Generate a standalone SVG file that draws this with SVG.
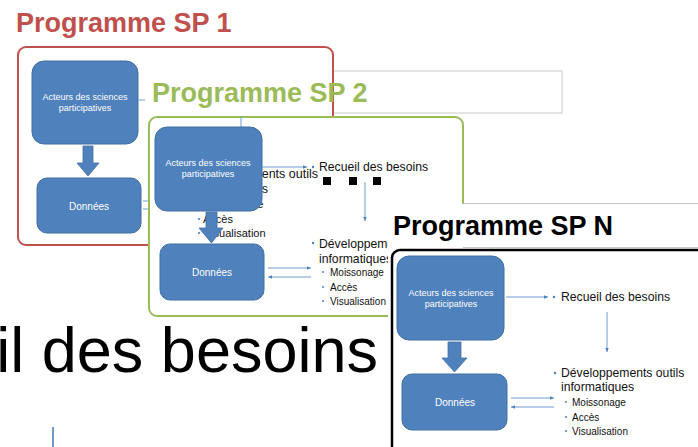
<svg xmlns="http://www.w3.org/2000/svg" width="698" height="447" viewBox="0 0 698 447">
  <defs>
    <marker id="tip" viewBox="0 0 6 6" refX="5" refY="3" markerWidth="5" markerHeight="5" orient="auto">
      <path d="M0,0.8 L5,3 L0,5.2 Z" fill="#4f81bd"/>
    </marker>
  </defs>
  <style>
    text { font-family: "Liberation Sans", Arial, sans-serif; }
    .title { font-size: 27px; font-weight: bold; }
    .box { fill: #4f81bd; stroke: #416fa5; stroke-width: 1; }
    .boxtxt { fill: #ffffff; font-size: 9px; text-anchor: middle; }
    .boxtxt2 { fill: #ffffff; font-size: 10px; text-anchor: middle; }
    .down { fill: #4f81bd; stroke: #416fa5; stroke-width: 0.8; }
    .conn { stroke: #6f9bd1; stroke-width: 1; fill: none; }
    .dot { fill: #4f81bd; }
    .main { font-size: 12.2px; fill: #111; }
    .sub { font-size: 10px; fill: #111; }
    .frag-main { font-size: 12.5px; fill: #111; }
    .frag-sub { font-size: 11px; fill: #111; }
    .sq { fill: #000; }
    .frame { fill: #ffffff; stroke: #c8c8c8; stroke-width: 1; }
  </style>

  <rect width="698" height="447" fill="#ffffff"/>

  <!-- backdrop slide: large heading and a stray connector -->
  <g id="backdrop">
    <text x="378" y="372" font-size="63" fill="#000" text-anchor="end">il des besoins</text>
    <line x1="53" y1="427" x2="53" y2="447" stroke="#4f81bd" stroke-width="1.6"/>
  </g>

  <!-- Programme SP 1 -->
  <g id="sp1">
    <text class="title" x="16" y="32" fill="#c0504d">Programme SP 1</text>
    <rect x="18" y="47" width="315" height="198" rx="8" fill="#ffffff" stroke="#c0504d" stroke-width="2"/>
  </g>
  <g id="sp1-acteurs">
    <rect class="box" x="32" y="61" width="106" height="83" rx="12"/>
    <text class="boxtxt" x="85" y="100">Acteurs des sciences</text>
    <text class="boxtxt" x="85" y="111">participatives</text>
  </g>
  <g id="sp1-donnees">
    <rect class="box" x="37" y="178" width="104" height="55" rx="10"/>
    <text class="boxtxt2" x="89" y="210">Données</text>
  </g>
  <g id="sp1-connectors">
    <path class="down" d="M83,146 H93 V163 H99 L88,176 L77,163 H83 Z"/>
    <line class="conn" x1="139" y1="100" x2="145" y2="100"/>
    <line class="conn" x1="143" y1="201" x2="156" y2="201"/>
    <line class="conn" x1="143" y1="209" x2="156" y2="209"/>
  </g>

  <!-- Programme SP 2 -->
  <g id="sp2">
    <rect class="frame" x="333" y="71" width="229" height="42"/>
    <line x1="333" y1="60" x2="333" y2="116" stroke="#c0504d" stroke-width="2"/>
    <text class="title" x="152" y="102" fill="#9bbb59">Programme SP 2</text>
    <rect x="149" y="117" width="314" height="199" rx="8" fill="#ffffff" stroke="#9bbb59" stroke-width="2"/>
  </g>

  <!-- SP 1 list showing through the SP 2 frame -->
  <g id="sp1-list">
    <text class="frag-main" x="318" y="178" text-anchor="end">Développements outils</text>
    <text class="frag-main" x="268" y="193" text-anchor="end">informatiques</text>
    <circle class="dot" cx="199" cy="205" r="1.1"/>
    <text class="frag-sub" x="204" y="208">Moissonage</text>
    <circle class="dot" cx="199" cy="219" r="1.1"/>
    <text class="frag-sub" x="203" y="223">Accès</text>
    <circle class="dot" cx="199" cy="233" r="1.1"/>
    <text class="frag-sub" x="204" y="237">Visualisation</text>
    <line class="conn" x1="241" y1="117" x2="241" y2="128"/>
    <rect class="sq" x="323" y="177" width="8" height="8"/>
    <rect class="sq" x="349" y="177" width="8" height="8"/>
    <rect class="sq" x="373" y="177" width="8" height="8"/>
  </g>

  <g id="sp2-acteurs">
    <rect class="box" x="155" y="127" width="107" height="84" rx="12"/>
    <text class="boxtxt" x="208" y="166">Acteurs des sciences</text>
    <text class="boxtxt" x="208" y="177">participatives</text>
  </g>
  <g id="sp2-donnees">
    <rect class="box" x="160" y="244" width="104" height="56" rx="10"/>
    <text class="boxtxt2" x="212" y="276">Données</text>
  </g>
  <g id="sp2-besoins">
    <circle class="dot" cx="313" cy="167" r="1.2"/>
    <text class="main" x="319" y="171">Recueil des besoins</text>
  </g>
  <g id="sp2-outils">
    <circle class="dot" cx="313" cy="243" r="1.2"/>
    <text class="main" x="319" y="248">Développements outils</text>
    <text class="main" x="319" y="263">informatiques</text>
    <circle class="dot" cx="323" cy="272" r="1"/>
    <text class="sub" x="330" y="276">Moissonage</text>
    <circle class="dot" cx="323" cy="287" r="1"/>
    <text class="sub" x="330" y="291">Accès</text>
    <circle class="dot" cx="323" cy="301" r="1"/>
    <text class="sub" x="330" y="305">Visualisation</text>
  </g>
  <g id="sp2-connectors">
    <path class="down" d="M206,212 H217 V228 H223 L211.5,243 L199,228 H206 Z"/>
    <line class="conn" x1="262" y1="167" x2="307" y2="167" marker-end="url(#tip)"/>
    <line class="conn" x1="365" y1="182" x2="365" y2="221" marker-end="url(#tip)"/>
    <line class="conn" x1="268" y1="268" x2="311" y2="268" marker-end="url(#tip)"/>
    <line class="conn" x1="311" y1="277" x2="268" y2="277" marker-end="url(#tip)"/>
  </g>

  <!-- Programme SP N -->
  <g id="spn">
    <rect x="388" y="204" width="320" height="250" fill="#ffffff"/>
    <line x1="463" y1="203.5" x2="698" y2="203.5" stroke="#c8c8c8" stroke-width="1"/>
    <line x1="463" y1="247.5" x2="698" y2="247.5" stroke="#c8c8c8" stroke-width="1"/>
    <text class="title" x="393" y="235" fill="#000">Programme SP N</text>
    <rect x="392" y="250" width="330" height="220" rx="8" fill="#ffffff" stroke="#000" stroke-width="2.5"/>
  </g>
  <g id="spn-acteurs">
    <rect class="box" x="397" y="256" width="107" height="84" rx="12"/>
    <text class="boxtxt" x="451" y="296">Acteurs des sciences</text>
    <text class="boxtxt" x="451" y="307">participatives</text>
  </g>
  <g id="spn-donnees">
    <rect class="box" x="402" y="374" width="105" height="56" rx="10"/>
    <text class="boxtxt2" x="455" y="406">Données</text>
  </g>
  <g id="spn-besoins">
    <circle class="dot" cx="554" cy="297" r="1.2"/>
    <text class="main" x="561" y="301">Recueil des besoins</text>
  </g>
  <g id="spn-outils">
    <circle class="dot" cx="555" cy="373" r="1.2"/>
    <text class="main" x="561" y="377">Développements outils</text>
    <text class="main" x="561" y="391">informatiques</text>
    <circle class="dot" cx="566" cy="402" r="1"/>
    <text class="sub" x="572" y="406">Moissonage</text>
    <circle class="dot" cx="566" cy="417" r="1"/>
    <text class="sub" x="572" y="421">Accès</text>
    <circle class="dot" cx="566" cy="431" r="1"/>
    <text class="sub" x="572" y="435">Visualisation</text>
  </g>
  <g id="spn-connectors">
    <path class="down" d="M448,342 H461 V358 H467 L454.5,372 L442,358 H448 Z"/>
    <line class="conn" x1="506" y1="297" x2="548" y2="297" marker-end="url(#tip)"/>
    <line class="conn" x1="607" y1="312" x2="607" y2="352" marker-end="url(#tip)"/>
    <line class="conn" x1="511" y1="398" x2="554" y2="398" marker-end="url(#tip)"/>
    <line class="conn" x1="554" y1="407" x2="511" y2="407" marker-end="url(#tip)"/>
  </g>
</svg>
